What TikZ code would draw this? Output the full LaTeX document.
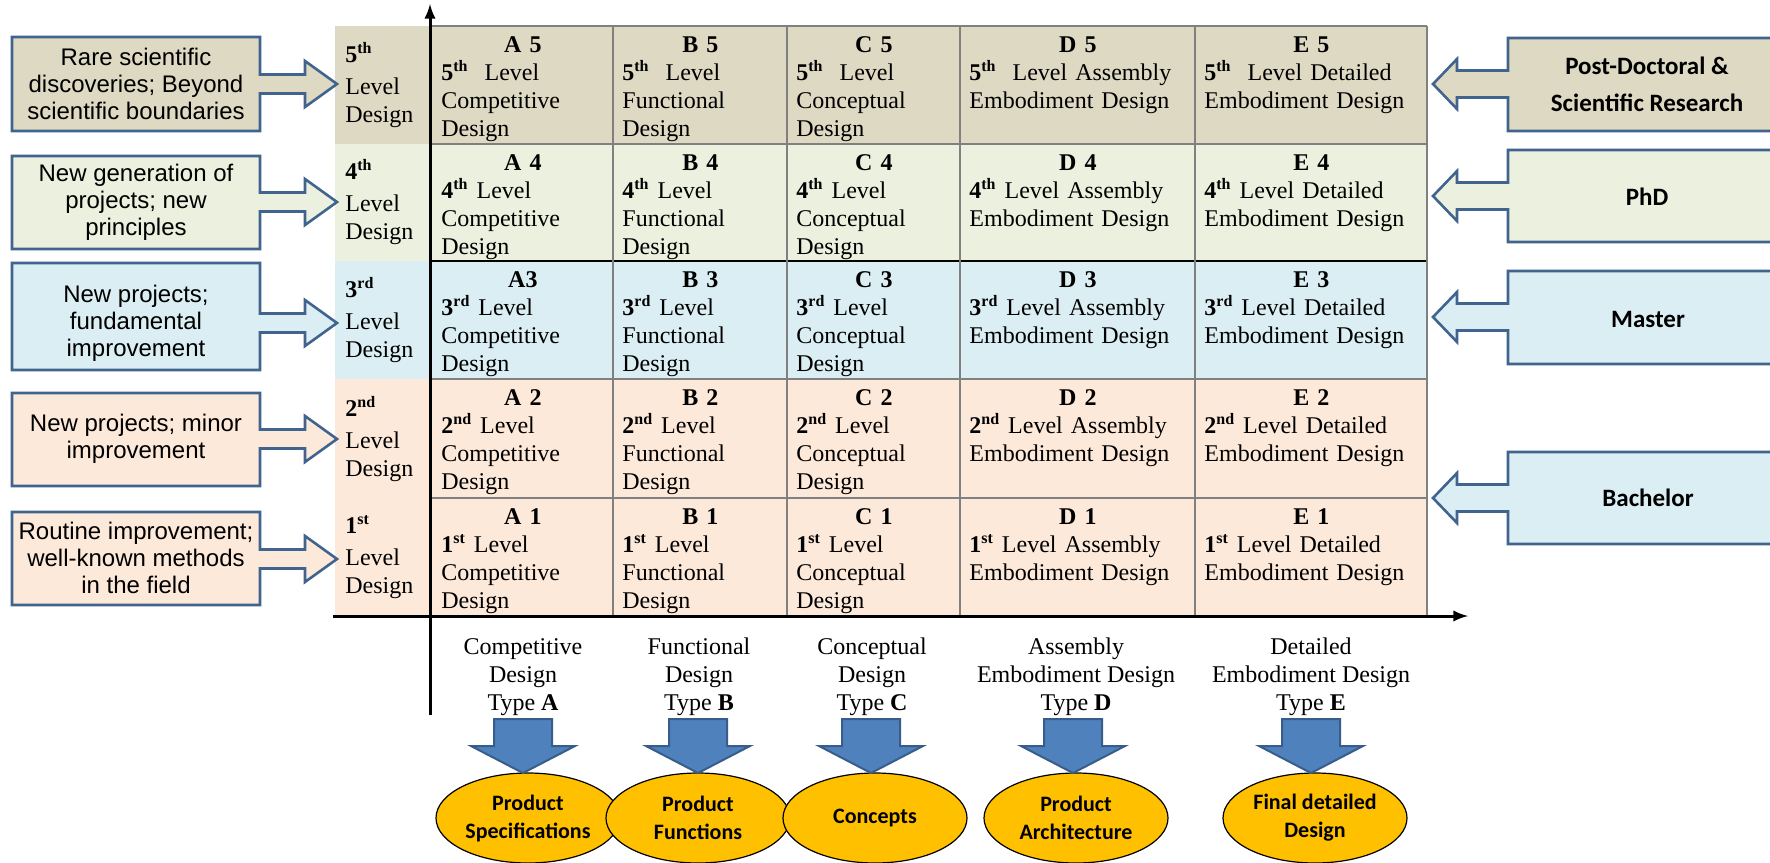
\documentclass[tikz,border=0pt]{standalone}
\usepackage{fontspec}
\setmainfont{Liberation Serif}
\newfontfamily\arialfont{Liberation Sans}
\newfontfamily\calibrifont{Carlito}
\usepackage{tikz}
\usetikzlibrary{shapes.geometric,arrows}
\usepackage{xcolor}
\definecolor{tanrow}{HTML}{DDD9C3}
\definecolor{greenrow}{HTML}{EBF1DE}
\definecolor{bluerow}{HTML}{DAEEF3}
\definecolor{orangerow}{HTML}{FDE9D9}
\definecolor{callblue}{HTML}{41648F}
\definecolor{arrowblue}{HTML}{4F81BD}
\definecolor{arrowedge}{HTML}{385D8A}
\definecolor{ellgold}{HTML}{FFC000}
\definecolor{gridgray}{HTML}{808080}

\begin{document}
\begin{tikzpicture}[x=0.5pt, y=-0.5pt,
    cell/.style={anchor=north west, inner xsep=4.5pt, inner ysep=5pt, align=left, font=\fontsize{12}{14}\selectfont},
    lvltext/.style={anchor=west, inner sep=0pt, align=left, font=\fontsize{12}{14}\selectfont},
    calltext/.style={align=center, inner sep=0pt, font=\arialfont\fontsize{12}{13.5}\selectfont},
    degreetext/.style={align=center, inner sep=0pt, font=\calibrifont\bfseries\fontsize{12.5}{18.5}\selectfont},
    calloutline/.style={draw=callblue, line width=1.3pt, line join=miter},
    typelabel/.style={align=center, inner sep=0pt, font=\fontsize{12}{14}\selectfont},
    blockarrow/.style={fill=arrowblue, draw=arrowedge, line width=1pt},
    result/.style={draw, ellipse, fill=ellgold, line width=0.6pt, minimum width=92pt, minimum height=45pt, inner sep=0pt, align=center, font=\calibrifont\bfseries\fontsize{11}{14}\selectfont},
    gridline/.style={draw=gridgray, line width=0.6pt},
    axisline/.style={line width=1.5pt, -latex}]
\useasboundingbox (0,0) rectangle (1770,862);
\clip (0,0) rectangle (1770,862);

% row shading
\fill[tanrow] (335,26) rectangle (1427,144);
\fill[greenrow] (335,144) rectangle (1427,261);
\fill[bluerow] (335,261) rectangle (1427,379);
\fill[orangerow] (335,379) rectangle (1427,616);

% grid
\draw[gridline] (432,26) -- (1427,26);
\draw[gridline] (432,144) -- (1427,144);
\draw[gridline] (432,379) -- (1427,379);
\draw[gridline] (432,498) -- (1427,498);
\draw[line width=1.1pt] (432,261) -- (1427,261);
\foreach \x in {613,787,960,1195,1427} \draw[gridline] (\x,26) -- (\x,616);

% axes
\coordinate (ytop) at (430,4);
\coordinate (ybot) at (430,715);
\coordinate (xleft) at (333,616);
\coordinate (xright) at (1468,616);
\draw[axisline] (ybot) -- (ytop);
\draw[axisline] (xleft) -- (xright);

% level column
\node[lvltext] (lv5) at (345,85) {\textbf{5\textsuperscript{th}}\\[2pt]Level\\Design};
\node[lvltext] (lv4) at (345,202) {\textbf{4\textsuperscript{th}}\\[2pt]Level\\Design};
\node[lvltext] (lv3) at (345,320) {\textbf{3\textsuperscript{rd}}\\[2pt]Level\\Design};
\node[lvltext] (lv2) at (345,439) {\textbf{2\textsuperscript{nd}}\\[2pt]Level\\Design};
\node[lvltext] (lv1) at (345,557) {\textbf{1\textsuperscript{st}}\\[2pt]Level\\Design};

% row 5
\node[cell, text width=81.5pt] (A5) at (432,26) {\makebox[\hsize]{\textbf{A 5}}\\\textbf{5\textsuperscript{th}}\ \ Level\\Competitive\\Design};
\node[cell, text width=78pt] (B5) at (613,26) {\makebox[\hsize]{\textbf{B 5}}\\\textbf{5\textsuperscript{th}}\ \ Level\\Functional\\Design};
\node[cell, text width=77.5pt] (C5) at (787,26) {\makebox[\hsize]{\textbf{C 5}}\\\textbf{5\textsuperscript{th}}\ \ Level\\Conceptual\\Design};
\node[cell, text width=108.5pt] (D5) at (960,26) {\makebox[\hsize]{\textbf{D 5}}\\\textbf{5\textsuperscript{th}}\ \ Level Assembly\\Embodiment Design};
\node[cell, text width=107pt] (E5) at (1195,26) {\makebox[\hsize]{\textbf{E 5}}\\\textbf{5\textsuperscript{th}}\ \ Level Detailed\\Embodiment Design};
% row 4
\node[cell, text width=81.5pt] (A4) at (432,144) {\makebox[\hsize]{\textbf{A 4}}\\\textbf{4\textsuperscript{th}} Level\\Competitive\\Design};
\node[cell, text width=78pt] (B4) at (613,144) {\makebox[\hsize]{\textbf{B 4}}\\\textbf{4\textsuperscript{th}} Level\\Functional\\Design};
\node[cell, text width=77.5pt] (C4) at (787,144) {\makebox[\hsize]{\textbf{C 4}}\\\textbf{4\textsuperscript{th}} Level\\Conceptual\\Design};
\node[cell, text width=108.5pt] (D4) at (960,144) {\makebox[\hsize]{\textbf{D 4}}\\\textbf{4\textsuperscript{th}} Level Assembly\\Embodiment Design};
\node[cell, text width=107pt] (E4) at (1195,144) {\makebox[\hsize]{\textbf{E 4}}\\\textbf{4\textsuperscript{th}} Level Detailed\\Embodiment Design};
% row 3
\node[cell, text width=81.5pt] (A3) at (432,261) {\makebox[\hsize]{\textbf{A3}}\\\textbf{3\textsuperscript{rd}} Level\\Competitive\\Design};
\node[cell, text width=78pt] (B3) at (613,261) {\makebox[\hsize]{\textbf{B 3}}\\\textbf{3\textsuperscript{rd}} Level\\Functional\\Design};
\node[cell, text width=77.5pt] (C3) at (787,261) {\makebox[\hsize]{\textbf{C 3}}\\\textbf{3\textsuperscript{rd}} Level\\Conceptual\\Design};
\node[cell, text width=108.5pt] (D3) at (960,261) {\makebox[\hsize]{\textbf{D 3}}\\\textbf{3\textsuperscript{rd}} Level Assembly\\Embodiment Design};
\node[cell, text width=107pt] (E3) at (1195,261) {\makebox[\hsize]{\textbf{E 3}}\\\textbf{3\textsuperscript{rd}} Level Detailed\\Embodiment Design};
% row 2
\node[cell, text width=81.5pt] (A2) at (432,379) {\makebox[\hsize]{\textbf{A 2}}\\\textbf{2\textsuperscript{nd}} Level\\Competitive\\Design};
\node[cell, text width=78pt] (B2) at (613,379) {\makebox[\hsize]{\textbf{B 2}}\\\textbf{2\textsuperscript{nd}} Level\\Functional\\Design};
\node[cell, text width=77.5pt] (C2) at (787,379) {\makebox[\hsize]{\textbf{C 2}}\\\textbf{2\textsuperscript{nd}} Level\\Conceptual\\Design};
\node[cell, text width=108.5pt] (D2) at (960,379) {\makebox[\hsize]{\textbf{D 2}}\\\textbf{2\textsuperscript{nd}} Level Assembly\\Embodiment Design};
\node[cell, text width=107pt] (E2) at (1195,379) {\makebox[\hsize]{\textbf{E 2}}\\\textbf{2\textsuperscript{nd}} Level Detailed\\Embodiment Design};
% row 1
\node[cell, text width=81.5pt] (A1) at (432,498) {\makebox[\hsize]{\textbf{A 1}}\\\textbf{1\textsuperscript{st}} Level\\Competitive\\Design};
\node[cell, text width=78pt] (B1) at (613,498) {\makebox[\hsize]{\textbf{B 1}}\\\textbf{1\textsuperscript{st}} Level\\Functional\\Design};
\node[cell, text width=77.5pt] (C1) at (787,498) {\makebox[\hsize]{\textbf{C 1}}\\\textbf{1\textsuperscript{st}} Level\\Conceptual\\Design};
\node[cell, text width=108.5pt] (D1) at (960,498) {\makebox[\hsize]{\textbf{D 1}}\\\textbf{1\textsuperscript{st}} Level Assembly\\Embodiment Design};
\node[cell, text width=107pt] (E1) at (1195,498) {\makebox[\hsize]{\textbf{E 1}}\\\textbf{1\textsuperscript{st}} Level Detailed\\Embodiment Design};

% left callouts
\draw[calloutline, fill=tanrow] (12,37) -- (260,37) -- (260,74.5) -- (305,74.5) -- (305,61) -- (337,84) -- (305,107) -- (305,93.5) -- (260,93.5) -- (260,131) -- (12,131) -- cycle;
\node[calltext] (why5) at (136,84) {Rare scientific\\discoveries; Beyond\\scientific boundaries};
\draw[calloutline, fill=greenrow] (12,156) -- (260,156) -- (260,192.5) -- (305,192.5) -- (305,179) -- (337,202) -- (305,225) -- (305,211.5) -- (260,211.5) -- (260,249) -- (12,249) -- cycle;
\node[calltext] (why4) at (136,202) {New generation of\\projects; new\\principles};
\draw[calloutline, fill=bluerow] (12,263) -- (260,263) -- (260,313.5) -- (305,313.5) -- (305,300) -- (337,323) -- (305,346) -- (305,332.5) -- (260,332.5) -- (260,370) -- (12,370) -- cycle;
\node[calltext] (why3) at (136,323) {New projects;\\fundamental\\improvement};
\draw[calloutline, fill=orangerow] (12,393) -- (260,393) -- (260,429.5) -- (305,429.5) -- (305,416) -- (337,439) -- (305,462) -- (305,448.5) -- (260,448.5) -- (260,486) -- (12,486) -- cycle;
\node[calltext] (why2) at (136,439) {New projects; minor\\improvement};
\draw[calloutline, fill=orangerow] (12,512) -- (260,512) -- (260,549.5) -- (305,549.5) -- (305,536) -- (337,559) -- (305,582) -- (305,568.5) -- (260,568.5) -- (260,605) -- (12,605) -- cycle;
\node[calltext] (why1) at (136,558) {Routine improvement;\\well-known methods\\in the field};

% right callouts
\draw[calloutline, fill=tanrow] (1790,38) -- (1508,38) -- (1508,70.5) -- (1457,70.5) -- (1457,59) -- (1433,84) -- (1457,109) -- (1457,97.5) -- (1508,97.5) -- (1508,131) -- (1790,131) -- cycle;
\node[degreetext] (postdoc) at (1647,84) {Post-Doctoral \&\\Scientific Research};
\draw[calloutline, fill=greenrow] (1790,150) -- (1508,150) -- (1508,182.5) -- (1457,182.5) -- (1457,171) -- (1433,196) -- (1457,221) -- (1457,209.5) -- (1508,209.5) -- (1508,242) -- (1790,242) -- cycle;
\node[degreetext] (phd) at (1647,197) {PhD};
\draw[calloutline, fill=bluerow] (1790,271) -- (1508,271) -- (1508,303.5) -- (1457,303.5) -- (1457,292) -- (1433,317) -- (1457,342) -- (1457,330.5) -- (1508,330.5) -- (1508,364) -- (1790,364) -- cycle;
\node[degreetext] (master) at (1648,319) {Master};
\draw[calloutline, fill=bluerow] (1790,452) -- (1508,452) -- (1508,484.5) -- (1457,484.5) -- (1457,473) -- (1433,498) -- (1457,523) -- (1457,511.5) -- (1508,511.5) -- (1508,544) -- (1790,544) -- cycle;
\node[degreetext] (bachelor) at (1648,498) {Bachelor};

% design types
\node[typelabel] (tA) at (523,677) {Competitive\\Design\\Type \textbf{A}};
\node[typelabel] (tB) at (699,677) {Functional\\Design\\Type \textbf{B}};
\node[typelabel] (tC) at (872,677) {Conceptual\\Design\\Type \textbf{C}};
\node[typelabel] (tD) at (1076,677) {Assembly\\Embodiment Design\\Type \textbf{D}};
\node[typelabel] (tE) at (1311,677) {Detailed\\Embodiment Design\\Type \textbf{E}};

% outcomes
\node[result] (eA) at (528,818) {Product\\Specifications};
\node[result] (eB) at (698,818) {Product\\Functions};
\node[result] (eC) at (875,818) {Concepts};
\node[result] (eD) at (1076,818) {Product\\Architecture};
\node[result] (eE) at (1315,818) {Final detailed\\Design};

\draw[blockarrow] (494,719) -- (552,719) -- (552,746) -- (575,746) -- (523,773) -- (471,746) -- (494,746) -- cycle;
\draw[blockarrow] (669,719) -- (727,719) -- (727,746) -- (750,746) -- (698,773) -- (646,746) -- (669,746) -- cycle;
\draw[blockarrow] (842,719) -- (900,719) -- (900,746) -- (923,746) -- (871,773) -- (819,746) -- (842,746) -- cycle;
\draw[blockarrow] (1044,719) -- (1102,719) -- (1102,746) -- (1125,746) -- (1073,773) -- (1021,746) -- (1044,746) -- cycle;
\draw[blockarrow] (1282,719) -- (1340,719) -- (1340,746) -- (1363,746) -- (1311,773) -- (1259,746) -- (1282,746) -- cycle;
\end{tikzpicture}
\end{document}
